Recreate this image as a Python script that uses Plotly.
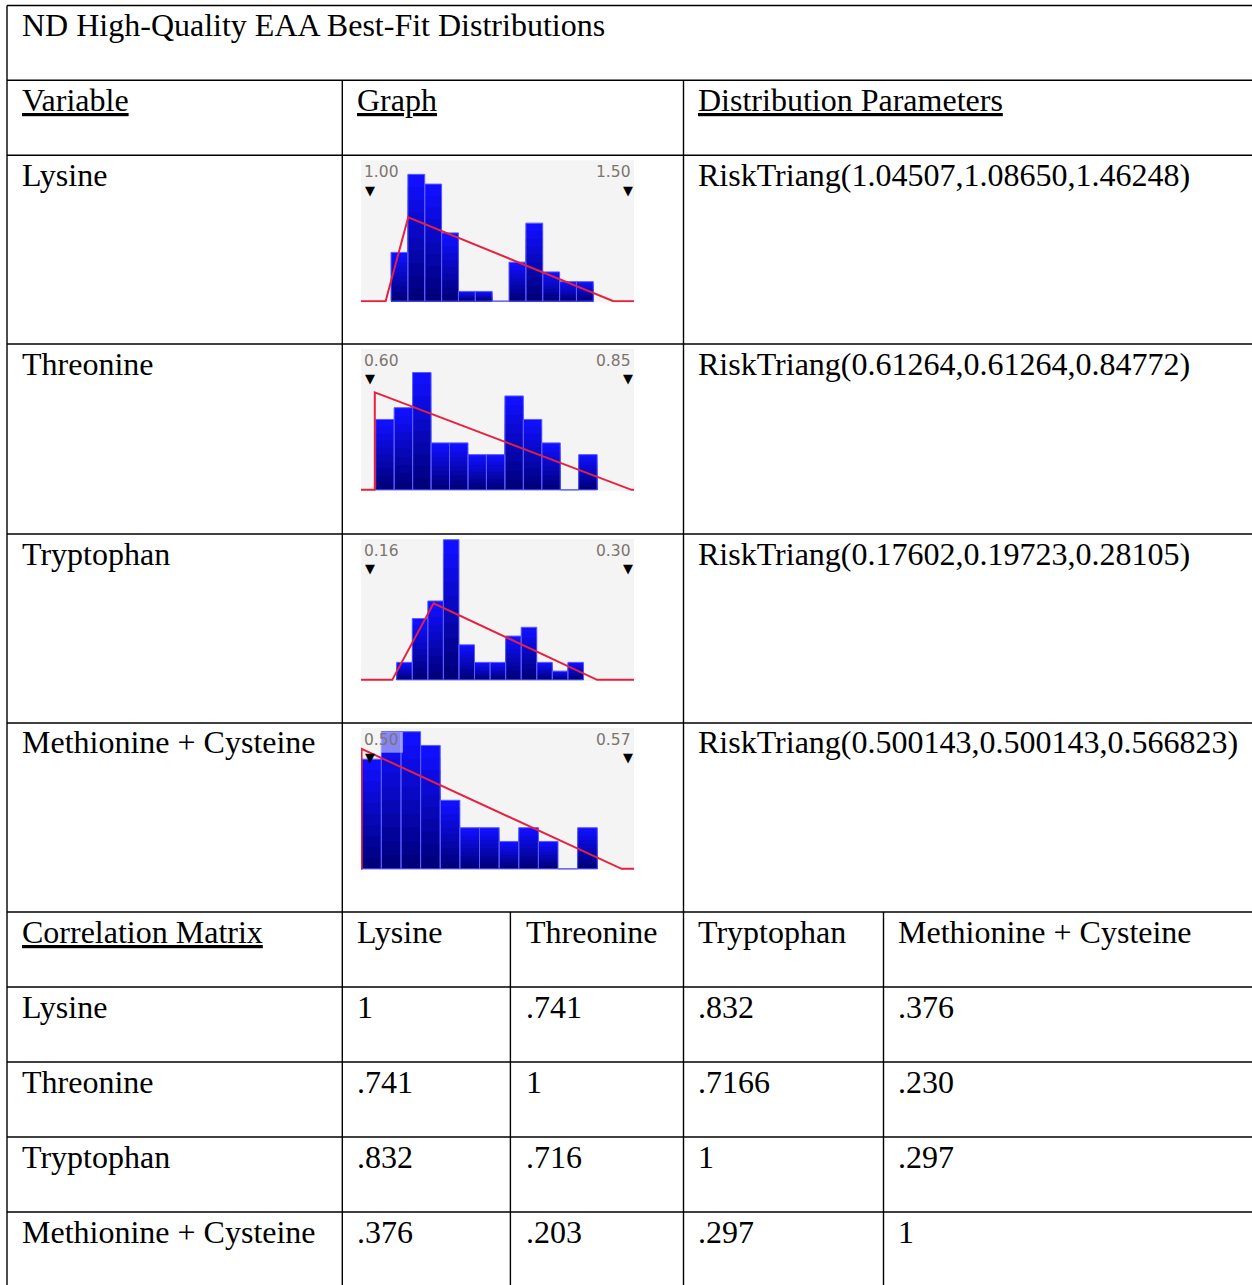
import plotly.graph_objects as go

W, H = 1252, 1285

# ---------------- data ----------------
title_text = "ND High-Quality EAA Best-Fit Distributions"
header_labels = ["Variable", "Graph", "Distribution Parameters"]
variables = ["Lysine", "Threonine", "Tryptophan", "Methionine + Cysteine"]
param_text = [
    "RiskTriang(1.04507,1.08650,1.46248)",
    "RiskTriang(0.61264,0.61264,0.84772)",
    "RiskTriang(0.17602,0.19723,0.28105)",
    "RiskTriang(0.500143,0.500143,0.566823)",
]
tri_min = [1.04507, 0.61264, 0.17602, 0.500143]
tri_mode = [1.08650, 0.61264, 0.19723, 0.500143]
tri_max = [1.46248, 0.84772, 0.28105, 0.566823]
tri_peak = [8.6, 8.3, 8.75, 8.75]          # fitted triangle peak, in histogram count units
axis_min_labels = ["1.00", "0.60", "0.16", "0.50"]
axis_max_labels = ["1.50", "0.85", "0.30", "0.57"]
axis_min = [1.00, 0.60, 0.16, 0.50]
axis_max = [1.50, 0.85, 0.30, 0.57]
y_max = [14.44, 12.0, 16.08, 10.27]
bin_start = [1.05495, 0.61346, 0.17831, 0.50018]
bin_width = [0.030876, 0.0169, 0.00798, 0.005034]
counts_lysine = [5, 13, 12, 7, 1, 1, 0, 4, 8, 3, 2, 2]
counts_threonine = [6, 7, 10, 4, 4, 3, 3, 8, 6, 4, 0, 3]
counts_tryptophan = [2, 7, 9, 16, 4, 2, 2, 5, 6, 2, 1, 2]
counts_methionine = [8, 10, 10, 9, 5, 3, 3, 2, 3, 2, 0, 3]
all_counts = [counts_lysine, counts_threonine, counts_tryptophan, counts_methionine]

corr_header = "Correlation Matrix"
corr_cols = ["Lysine", "Threonine", "Tryptophan", "Methionine + Cysteine"]
corr_rows = ["Lysine", "Threonine", "Tryptophan", "Methionine + Cysteine"]
corr_lysine = ["1", ".741", ".832", ".376"]
corr_threonine = [".741", "1", ".7166", ".230"]
corr_tryptophan = [".832", ".716", "1", ".297"]
corr_methionine = [".376", ".203", ".297", "1"]
corr_values = [corr_lysine, corr_threonine, corr_tryptophan, corr_methionine]

# ---------------- layout geometry (pixels) ----------------
row_tops = [5.5, 80.3, 155.3, 344, 534, 723, 912, 987, 1062, 1137, 1212]
graph_row_tops = row_tops[2:6]
col_text_x = [20, 355, 696]
corr_text_x = [20, 355, 524, 696, 896]
LEFT, V1, V2, V_CORR1, V_CORR2 = 7, 342.3, 683.5, 510.4, 883.5
PLOT_L, PLOT_R = 361, 634

SERIF = "Liberation Serif"
FS = 32


def X(px):
    return px / W


def Y(py):
    return 1 - py / H


fig = go.Figure()
shapes = []
annotations = []


def hline(py, x0=LEFT, x1=W + 5):
    shapes.append(dict(type="line", xref="paper", yref="paper", x0=X(x0), x1=X(x1),
                       y0=Y(py), y1=Y(py), line=dict(color="black", width=1.4)))


def vline(px, y0, y1=H + 5):
    shapes.append(dict(type="line", xref="paper", yref="paper", x0=X(px), x1=X(px),
                       y0=Y(y0), y1=Y(y1), line=dict(color="black", width=1.4)))


for rt in row_tops:
    hline(rt)
vline(LEFT, row_tops[0])
vline(V1, row_tops[1])
vline(V2, row_tops[1])
vline(V_CORR1, row_tops[6])
vline(V_CORR2, row_tops[6])


def cell_text(text, px, row_top):
    annotations.append(dict(text=text, xref="paper", yref="paper", x=X(px), y=Y(row_top + 19.5),
                            xanchor="left", yanchor="middle", showarrow=False,
                            font=dict(family=SERIF, size=FS, color="black")))


cell_text(title_text, col_text_x[0], row_tops[0])
for t, px in zip(header_labels, col_text_x):
    cell_text("<u>" + t + "</u>", px, row_tops[1])
for i, v in enumerate(variables):
    cell_text(v, col_text_x[0], graph_row_tops[i])
    cell_text(param_text[i], col_text_x[2], graph_row_tops[i])

cell_text("<u>" + corr_header + "</u>", corr_text_x[0], row_tops[6])
for j, c in enumerate(corr_cols):
    cell_text(c, corr_text_x[j + 1], row_tops[6])
for i, r in enumerate(corr_rows):
    cell_text(r, corr_text_x[0], row_tops[7 + i])
    for j, val in enumerate(corr_values[i]):
        cell_text(val, corr_text_x[j + 1], row_tops[7 + i])

# ---------------- mini histograms ----------------
K = 10
top_rgb = (16, 16, 255)
bot_rgb = (0, 0, 125)
layout_axes = {}
for i in range(4):
    n = i + 1
    xa = "x" if n == 1 else f"x{n}"
    ya = "y" if n == 1 else f"y{n}"
    rt = graph_row_tops[i]
    counts = all_counts[i]
    centers = [bin_start[i] + bin_width[i] * (k + 0.5) for k in range(len(counts))]
    for j in range(K):
        f = j / (K - 1)
        col = "rgb(%d,%d,%d)" % tuple(int(top_rgb[c] + (bot_rgb[c] - top_rgb[c]) * f) for c in range(3))
        frac = (K - j) / K
        fig.add_trace(go.Bar(x=centers, y=[c * frac for c in counts], width=bin_width[i],
                             marker=dict(color=col, line=dict(width=0)), xaxis=xa, yaxis=ya,
                             showlegend=False, hoverinfo="skip"))
    fig.add_trace(go.Bar(x=centers, y=counts, width=bin_width[i],
                         marker=dict(color="rgba(0,0,0,0)", line=dict(color="#5a5aff", width=1)),
                         xaxis=xa, yaxis=ya, showlegend=False, hoverinfo="skip"))
    fig.add_trace(go.Scatter(x=[axis_min[i], tri_min[i], tri_mode[i], tri_max[i], axis_max[i]],
                             y=[0, 0, tri_peak[i], 0, 0], mode="lines",
                             line=dict(color="#e8203e", width=2), xaxis=xa, yaxis=ya,
                             showlegend=False, hoverinfo="skip"))
    ydom = [Y(rt + 147), Y(rt + 5)]
    xkey = "xaxis" if n == 1 else f"xaxis{n}"
    ykey = "yaxis" if n == 1 else f"yaxis{n}"
    layout_axes[xkey] = dict(domain=[X(PLOT_L), X(PLOT_R)], range=[axis_min[i], axis_max[i]],
                             visible=False, anchor=ya, fixedrange=True)
    layout_axes[ykey] = dict(domain=ydom, range=[-y_max[i] * 0.008, y_max[i]],
                             visible=False, anchor=xa, fixedrange=True)
    dref_x = f"{xa} domain"
    dref_y = f"{ya} domain"
    lab_font = dict(family="DejaVu Sans", size=15.5, color="#7d746e")
    annotations.append(dict(text=axis_min_labels[i], xref=dref_x, yref=dref_y, x=0.004, y=0.915,
                            xanchor="left", yanchor="middle", showarrow=False, font=lab_font))
    annotations.append(dict(text=axis_max_labels[i], xref=dref_x, yref=dref_y, x=0.998, y=0.915,
                            xanchor="right", yanchor="middle", showarrow=False, font=lab_font))
    for mx in (0.033, 0.977):
        annotations.append(dict(text="▼", xref=dref_x, yref=dref_y, x=mx, y=0.79,
                                xanchor="center", yanchor="middle", showarrow=False,
                                font=dict(family="DejaVu Sans", size=13, color="black")))
    if i == 3:
        shapes.append(dict(type="rect", xref=dref_x, yref=dref_y, x0=0.073, x1=0.154,
                           y0=0.826, y1=0.972, fillcolor="rgba(232,232,245,0.55)",
                           line=dict(width=0), layer="above"))

fig.update_layout(
    width=W, height=H,
    margin=dict(l=0, r=0, t=0, b=0),
    paper_bgcolor="white",
    plot_bgcolor="#f4f4f4",
    barmode="overlay",
    shapes=shapes,
    annotations=annotations,
    **layout_axes,
)

fig.write_html("out.html", config={"displayModeBar": False},
               post_script="document.body.style.margin='0px';document.body.style.padding='0px';"
                           "document.body.style.overflow='hidden';")
